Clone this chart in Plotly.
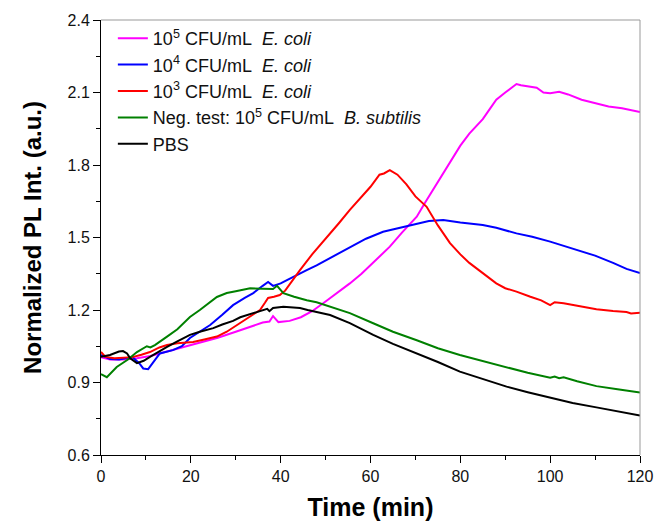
import plotly.graph_objects as go

# readings from the figure: time (min) and normalized PL intensity
t_e5 = [0, 2, 5, 8, 11, 15, 18, 22, 26, 30, 33, 36, 37.5, 38.3, 39.5, 42, 44.5, 47, 50, 53,
        55.4, 58, 61, 64.3, 67, 70.3, 72, 73.9, 76, 78, 80, 82, 85, 86.5, 88, 90, 92.5, 93.5,
        95, 97, 98.5, 100, 102, 104, 107, 110, 113, 116, 120]
v_e5 = [1.005, 0.995, 0.995, 1.0, 1.01, 1.03, 1.045, 1.065, 1.085, 1.11, 1.13, 1.148, 1.152,
        1.175, 1.15, 1.155, 1.17, 1.195, 1.235, 1.275, 1.31, 1.35, 1.405, 1.462, 1.52, 1.586,
        1.64, 1.697, 1.76, 1.82, 1.88, 1.93, 1.99, 2.03, 2.07, 2.1, 2.135, 2.13, 2.125, 2.12,
        2.10, 2.097, 2.103, 2.092, 2.07, 2.055, 2.042, 2.035, 2.019]

t_e4 = [0, 2, 4, 7, 8.5, 9.4, 10.5, 12, 13.1, 16, 18, 19.8, 22, 24.3, 27, 29.4, 32, 33.9, 36,
        37.2, 38.3, 40, 41.4, 44, 45.8, 48, 51.6, 55.4, 59, 62.8, 66, 70.3, 73, 76.2, 80, 85,
        88, 92.5, 96, 100, 104, 107.3, 110, 114, 117, 120]
v_e4 = [1.014, 0.997, 0.995, 1.005, 0.98, 0.958, 0.955, 0.99, 1.02, 1.034, 1.05, 1.084, 1.11,
        1.138, 1.18, 1.22, 1.25, 1.27, 1.3, 1.316, 1.3, 1.31, 1.324, 1.35, 1.365, 1.385, 1.42,
        1.46, 1.495, 1.524, 1.538, 1.559, 1.568, 1.572, 1.562, 1.552, 1.54, 1.517, 1.503,
        1.483, 1.46, 1.441, 1.425, 1.395, 1.37, 1.353]

t_e3 = [0, 1, 3, 7, 9, 10.9, 13, 14.7, 17, 20.5, 23, 25.8, 28, 30.9, 33, 35.4, 36.5, 37.2,
        38.5, 39.8, 41, 42.5, 44.3, 47, 50.3, 53, 55.4, 58, 60, 62, 63, 64.3, 66, 68, 70, 72.5,
        75, 77.7, 80, 82, 85, 88, 90, 92.5, 95.6, 98, 100, 101, 103, 107.3, 110.3, 114, 117,
        118, 120]
v_e3 = [1.026, 1.006, 1.0, 1.005, 1.015, 1.026, 1.045, 1.055, 1.062, 1.068, 1.078, 1.09, 1.11,
        1.146, 1.17, 1.2, 1.23, 1.25, 1.255, 1.262, 1.28, 1.32, 1.365, 1.43, 1.50, 1.56, 1.614,
        1.67, 1.71, 1.76, 1.765, 1.779, 1.76, 1.72, 1.67, 1.627, 1.55, 1.477, 1.43, 1.395,
        1.353, 1.31, 1.29, 1.276, 1.255, 1.24, 1.22, 1.232, 1.228, 1.214, 1.203, 1.196, 1.192,
        1.186, 1.189]

t_neg = [0, 1.3, 3.5, 6, 8, 10.2, 11, 12, 14.7, 17, 19.8, 22, 25.8, 28, 30, 33.2, 36, 38.3,
         39.2, 40.6, 43, 45.8, 48, 51, 55.4, 60.6, 65, 70.3, 75, 79.9, 85, 90.3, 95, 100, 101,
         102, 103, 106, 110.3, 115, 120]
v_neg = [0.935, 0.922, 0.964, 0.995, 1.026, 1.05, 1.045, 1.055, 1.09, 1.12, 1.171, 1.2, 1.254,
         1.27, 1.278, 1.29, 1.288, 1.287, 1.30, 1.27, 1.255, 1.24, 1.232, 1.214, 1.187, 1.145,
         1.11, 1.075, 1.042, 1.014, 0.988, 0.963, 0.94, 0.92, 0.925, 0.918, 0.922, 0.905,
         0.885, 0.872, 0.859]

t_pbs = [0, 2, 4, 4.9, 5.8, 6.5, 8, 9.5, 10.9, 13, 14.7, 17, 19.8, 22, 25, 27, 29.4, 31, 33.9,
         36, 37, 37.5, 38.3, 40.6, 42, 44.3, 46, 48, 51, 55.4, 60.6, 65, 70.3, 75, 79.9, 85,
         90.3, 95, 100, 105, 110.3, 115, 120]
v_pbs = [1.006, 1.014, 1.028, 1.03, 1.02, 1.0, 0.98, 0.99, 1.006, 1.03, 1.047, 1.07, 1.097,
         1.11, 1.125, 1.14, 1.155, 1.17, 1.187, 1.2, 1.205, 1.195, 1.208, 1.213, 1.21, 1.208,
         1.2, 1.192, 1.179, 1.146, 1.097, 1.06, 1.021, 0.985, 0.945, 0.915, 0.883, 0.86, 0.839,
         0.815, 0.797, 0.78, 0.763]

series = [
    (t_e5, v_e5, "#FF00FF", "10<sup>5</sup> CFU/mL&nbsp; <i>E. coli</i>"),
    (t_e4, v_e4, "#0000FF", "10<sup>4</sup> CFU/mL&nbsp; <i>E. coli</i>"),
    (t_e3, v_e3, "#FF0000", "10<sup>3</sup> CFU/mL&nbsp; <i>E. coli</i>"),
    (t_neg, v_neg, "#008000", "Neg. test: 10<sup>5</sup> CFU/mL&nbsp; <i>B. subtilis</i>"),
    (t_pbs, v_pbs, "#000000", "PBS"),
]

FONT = "Liberation Sans, Arial, sans-serif"

fig = go.Figure()
for t, v, color, name in series:
    fig.add_trace(go.Scatter(x=t, y=v, mode="lines", name=name,
                             line=dict(color=color, width=2)))

axis_common = dict(
    showgrid=False, zeroline=False, showline=True, linecolor="black", linewidth=1,
    ticks="outside", ticklen=7, tickcolor="black", tickfont=dict(size=16, color="#111"),
    automargin=False,
)

fig.update_xaxes(
    range=[0, 120], tick0=0, dtick=20, title_text="<b>Time (min)</b>", title_standoff=14,
    title_font=dict(size=25, color="black"),
    minor=dict(ticks="outside", dtick=10, ticklen=4, tickcolor="black"),
    **axis_common,
)
fig.update_yaxes(
    range=[0.6, 2.4], tick0=0.6, dtick=0.3, tickformat=".1f",
    title_text="<b>Normalized PL Int. (a.u.)</b>", title_standoff=19,
    title_font=dict(size=24, color="black"),
    minor=dict(ticks="outside", dtick=0.15, ticklen=4, tickcolor="black"),
    **axis_common,
)

# lighter frame on the top and right
fig.add_shape(type="line", xref="paper", yref="paper", x0=0, x1=1, y0=1, y1=1,
              line=dict(color="#999999", width=1))
fig.add_shape(type="line", xref="paper", yref="paper", x0=1, x1=1, y0=0, y1=1,
              line=dict(color="#999999", width=1))

fig.update_layout(
    width=655, height=521,
    margin=dict(l=101, r=15, t=20, b=66),
    paper_bgcolor="white", plot_bgcolor="white",
    font=dict(family=FONT, color="black"),
    legend=dict(x=0.022, y=1.0, xanchor="left", yanchor="top", bgcolor="rgba(0,0,0,0)",
                font=dict(size=18, color="#111"), tracegroupgap=0, itemwidth=30),
    showlegend=True,
)

fig.write_html("out.html", config={"displayModeBar": False},
               post_script="document.body.style.margin='0';")
